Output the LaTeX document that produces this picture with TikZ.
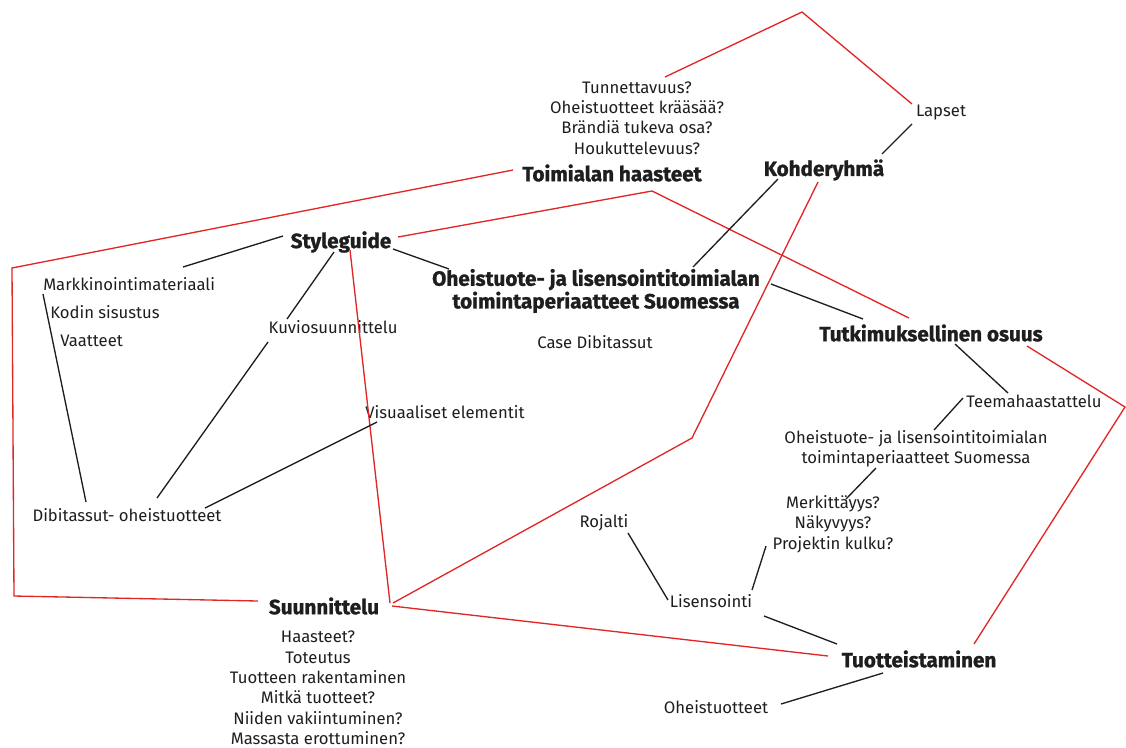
\documentclass[tikz,border=0pt]{standalone}
\usepackage{fontspec}
\setmainfont{Fira Sans}
\newfontfamily\hdfont{Fira Sans}[BoldFeatures={FakeBold=1.2}]
\usetikzlibrary{calc}
\definecolor{rl}{RGB}{226,38,38}
\definecolor{bl}{RGB}{30,30,30}
\begin{document}
\begin{tikzpicture}[x=0.75pt,y=-0.75pt,
  txt/.style={inner sep=0pt,font=\fontsize{12.5}{15.3}\selectfont,text=bl,align=center},
  hd/.style={inner sep=0pt,font=\fontsize{15.5}{15}\selectfont\hdfont\bfseries,text=bl,align=center},
  redl/.style={draw=rl,line width=1pt},
  blkl/.style={draw=bl,line width=1pt}]
\useasboundingbox (0,0) rectangle (1126,747);
% nodes
\node[txt] (tun) at (637,118) {Tunnettavuus?\\Oheistuotteet krääsää?\\Brändiä tukeva osa?\\Houkuttelevuus?};
\node[txt] (lap) at (941,113) {Lapset};
\node[hd] (toi) at (612,173) {Toimialan haasteet};
\node[hd] (koh) at (824,170) {Kohderyhmä};
\node[hd] (sg) at (341,242) {Styleguide};
\node[txt,anchor=west] (mm) at (43,284) {Markkinointimateriaali};
\node[txt,anchor=west] (kod) at (50,312) {Kodin sisustus};
\node[txt,anchor=west] (vaa) at (60,341) {Vaatteet};
\node[txt] (kuv) at (333,327) {Kuviosuunnittelu};
\node[hd] (ohb) at (596,291) {Oheistuote- ja lisensointitoimialan\\toimintaperiaatteet Suomessa};
\node[txt] (case) at (595,342) {Case Dibitassut};
\node[hd] (tut) at (931,333) {Tutkimuksellinen osuus};
\node[txt] (vis) at (445,412) {Visuaaliset elementit};
\node[txt] (tee) at (1034,401) {Teemahaastattelu};
\node[txt] (ohr) at (916,449) {Oheistuote- ja lisensointitoimialan\\toimintaperiaatteet Suomessa};
\node[txt] (mer) at (833,524) {Merkittäyys?\\Näkyvyys?\\Projektin kulku?};
\node[txt] (dib) at (127,515) {Dibitassut- oheistuotteet};
\node[txt] (roj) at (604,523) {Rojalti};
\node[txt] (lis) at (711,601) {Lisensointi};
\node[hd] (suu) at (324,606) {Suunnittelu};
\node[txt] (haa) at (318,688) {Haasteet?\\Toteutus\\Tuotteen rakentaminen\\Mitkä tuotteet?\\Niiden vakiintuminen?\\Massasta erottuminen?};
\node[hd] (tuo) at (919,659) {Tuotteistaminen};
\node[txt] (ohe) at (716,707) {Oheistuotteet};
% bend points
\coordinate (p1) at (802,12);
\coordinate (p2a) at (12,268);
\coordinate (p2b) at (14,596);
\coordinate (p3) at (652,191);
\coordinate (p5) at (692,438);
\coordinate (p7) at (1125,407);
% red connectors
\draw[redl] ($(tun)+(28,-41)$) -- (p1) -- ($(lap)+(-29,-9)$);
\draw[redl] ($(toi)+(-99,-3)$) -- (p2a) -- (p2b) -- ($(suu)+(-66,-5)$);
\draw[redl] ($(sg)+(57,-5)$) -- (p3) -- ($(tut)+(-22,-15)$);
\draw[redl] ($(sg)+(9,8)$) -- ($(suu)+(66,-3)$);
\draw[redl] ($(suu)+(69,-3)$) -- (p5) -- ($(koh)+(-6,12)$);
\draw[redl] ($(suu)+(68,0)$) -- ($(tuo)+(-91,-3)$);
\draw[redl] ($(tut)+(96,13)$) -- (p7) -- ($(tuo)+(55,-15)$);
% black connectors
\draw[blkl] ($(sg)+(-58,-6)$) -- ($(mm.west)+(140,-17)$);
\draw[blkl] ($(mm.west)+(0,10)$) -- ($(dib)+(-41,-13)$);
\draw[blkl] ($(sg)+(-7,10)$) -- ($(kuv)+(-46,-8)$);
\draw[blkl] ($(kuv)+(-65,15)$) -- ($(dib)+(30,-17)$);
\draw[blkl] ($(vis)+(-68,10)$) -- ($(dib)+(78,-7)$);
\draw[blkl] ($(sg)+(52,7)$) -- ($(ohb)+(-147,-22)$);
\draw[blkl] ($(koh)+(-46,9)$) -- ($(ohb)+(97,-24)$);
\draw[blkl] ($(lap)+(-29,11)$) -- ($(koh)+(58,-16)$);
\draw[blkl] ($(ohb)+(175,-7)$) -- ($(tut)+(-68,-14)$);
\draw[blkl] ($(tut)+(24,11)$) -- ($(tee)+(-26,-8)$);
\draw[blkl] ($(tee)+(-71,-3)$) -- ($(ohr)+(18,-19)$);
\draw[blkl] ($(ohr)+(-40,19)$) -- ($(mer)+(13,-25)$);
\draw[blkl] ($(mer)+(-67,22)$) -- ($(lis)+(41,-11)$);
\draw[blkl] ($(roj)+(24,10)$) -- ($(lis)+(-43,-1)$);
\draw[blkl] ($(lis)+(53,15)$) -- ($(tuo)+(-82,-15)$);
\draw[blkl] ($(tuo)+(-36,14)$) -- ($(ohe)+(65,-3)$);
\end{tikzpicture}
\end{document}
